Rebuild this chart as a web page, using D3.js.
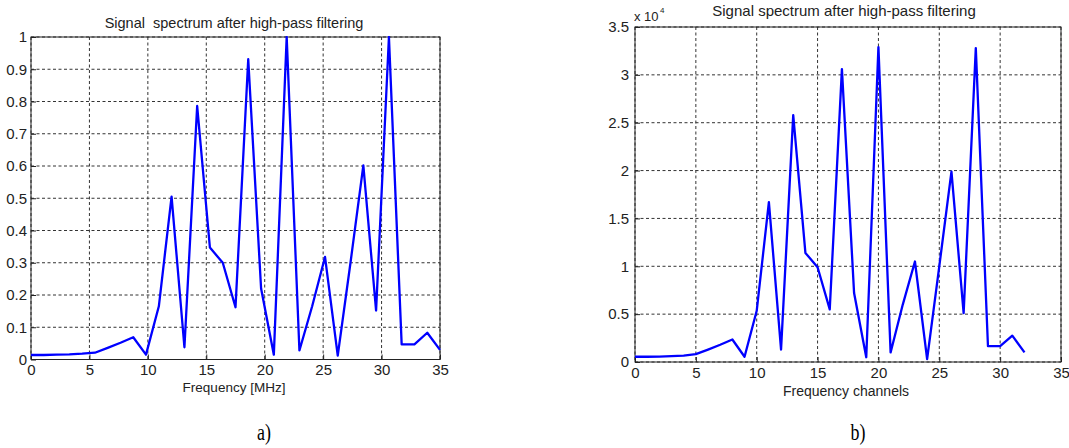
<!DOCTYPE html>
<html>
<head>
<meta charset="utf-8">
<script src="https://cdn.jsdelivr.net/npm/d3@7"></script>
<style>
  body { margin: 0; background: #fff; }
  svg { display: block; font-family: "Liberation Sans", Arial, sans-serif; }
  svg text { white-space: pre; }
</style>
</head>
<body>
<svg id="chart" width="1069" height="448"></svg>
<script>
// values
// a) normalised spectrum against frequency in MHz
const freqMHz = [0, 1.09, 2.19, 3.28, 4.38, 5.47, 6.56, 7.66, 8.75, 9.84, 10.94, 12.03, 13.13,
  14.22, 15.31, 16.41, 17.5, 18.59, 19.69, 20.78, 21.88, 22.97, 24.06, 25.16, 26.25, 27.34,
  28.44, 29.53, 30.63, 31.72, 32.81, 33.91, 35.0];
const normAmplitude = [0.014, 0.014, 0.015, 0.016, 0.018, 0.021, 0.036, 0.052, 0.069, 0.015,
  0.165, 0.505, 0.038, 0.786, 0.347, 0.3, 0.162, 0.931, 0.22, 0.015, 1.0, 0.028, 0.165, 0.318,
  0.012, 0.3, 0.602, 0.152, 1.0, 0.047, 0.047, 0.083, 0.03];

// b) spectrum against channel number, amplitude in units of 10^4
const channels = [0, 1, 2, 3, 4, 5, 6, 7, 8, 9, 10, 11, 12, 13, 14, 15, 16, 17, 18, 19, 20,
  21, 22, 23, 24, 25, 26, 27, 28, 29, 30, 31, 32];
const channelAmplitude = [0.055, 0.055, 0.056, 0.062, 0.066, 0.082, 0.13, 0.18, 0.235, 0.055,
  0.535, 1.67, 0.13, 2.58, 1.14, 0.99, 0.55, 3.06, 0.72, 0.05, 3.29, 0.1, 0.6, 1.05, 0.03, 1.0,
  1.99, 0.51, 3.28, 0.165, 0.165, 0.275, 0.1];

const xTicks = [0, 5, 10, 15, 20, 25, 30, 35];
const yTicksA = [0, 0.1, 0.2, 0.3, 0.4, 0.5, 0.6, 0.7, 0.8, 0.9, 1];
const yTicksB = [0, 0.5, 1, 1.5, 2, 2.5, 3, 3.5];

const svg = d3.select("#chart");
svg.append("rect").attr("width", 1069).attr("height", 448).attr("fill", "#fff");

function drawPanel(p) {
  var w = p.right - p.left, h = p.bottom - p.top;
  var x = d3.scaleLinear().domain([0, 35]).range([0, w]);
  var y = d3.scaleLinear().domain(p.yDomain).range([h, 0]);
  var g = svg.append("g").attr("transform", "translate(" + p.left + "," + p.top + ")");

  // dotted grid
  g.append("g").selectAll("line.vg").data(xTicks).enter().append("line")
    .attr("x1", d => x(d)).attr("x2", d => x(d)).attr("y1", 0).attr("y2", h)
    .attr("stroke", "#333").attr("stroke-width", 1).attr("stroke-dasharray", "3,2.5");
  g.append("g").selectAll("line.hg").data(p.yTicks).enter().append("line")
    .attr("x1", 0).attr("x2", w).attr("y1", d => y(d)).attr("y2", d => y(d))
    .attr("stroke", "#333").attr("stroke-width", 1).attr("stroke-dasharray", "3,2.5");

  // axes, ticks pointing inwards like matlab
  var xa = g.append("g").attr("transform", "translate(0," + h + ")")
    .call(d3.axisBottom(x).tickValues(xTicks).tickSizeInner(-5).tickSizeOuter(0).tickPadding(5).tickFormat(d3.format("d")));
  var ya = g.append("g")
    .call(d3.axisLeft(y).tickValues(p.yTicks).tickSizeInner(-5).tickSizeOuter(0).tickPadding(p.yPad).tickFormat(d => String(+d.toFixed(1))));
  [xa, ya].forEach(a => {
    a.select(".domain").remove();
    a.selectAll("line").attr("stroke", "#222");
    a.selectAll("text").attr("fill", "#222").style("font-size", "15px").style("font-family", "Liberation Sans, Arial, sans-serif");
  });

  g.append("rect").attr("width", w).attr("height", h)
    .attr("fill", "none").attr("stroke", "#222").attr("stroke-width", 1);

  var clipId = "clip" + p.id;
  g.append("clipPath").attr("id", clipId).append("rect").attr("x", -1).attr("y", -1).attr("width", w + 2).attr("height", h + 2);

  var line = d3.line().x(d => x(d[0])).y(d => y(d[1]));
  g.append("path").datum(d3.zip(p.xs, p.ys))
    .attr("clip-path", "url(#" + clipId + ")")
    .attr("d", line).attr("fill", "none").attr("stroke", "#0000ff")
    .attr("stroke-width", 2.3).attr("stroke-linejoin", "round");

  svg.append("text").attr("x", p.titleX).attr("y", p.titleY).attr("text-anchor", "middle")
    .attr("fill", "#222").style("font-size", p.titleSize).text(p.title);
  svg.append("text").attr("x", p.labelX).attr("y", p.labelY).attr("text-anchor", "middle")
    .attr("fill", "#222").style("font-size", p.labelSize).text(p.xLabel);

  // sub-figure tag, condensed serif
  svg.append("text").attr("transform", "translate(" + p.tagX + ",440) scale(0.78,1)")
    .attr("text-anchor", "middle").attr("fill", "#000")
    .style("font-family", "Liberation Serif, Times New Roman, serif").style("font-size", "23px")
    .text(p.tag);
}

drawPanel({
  id: "a", left: 31, top: 37, right: 440, bottom: 359.5,
  xs: freqMHz, ys: normAmplitude, yDomain: [0, 1], yTicks: yTicksA, yPad: 4,
  title: "Signal  spectrum after high-pass filtering", titleX: 234, titleY: 28, titleSize: "14.5px",
  xLabel: "Frequency [MHz]", labelX: 234, labelY: 392, labelSize: "13.5px",
  tag: "a)", tagX: 264
});

drawPanel({
  id: "b", left: 635, top: 27, right: 1061, bottom: 362,
  xs: channels, ys: channelAmplitude, yDomain: [0, 3.5], yTicks: yTicksB, yPad: 6,
  title: "Signal spectrum after high-pass filtering", titleX: 844, titleY: 16, titleSize: "15px",
  xLabel: "Frequency channels", labelX: 846, labelY: 396, labelSize: "14px",
  tag: "b)", tagX: 858
});

// exponent note on panel b
svg.append("text").attr("x", 634).attr("y", 20.5).attr("fill", "#222")
  .style("font-size", "13px").text("x 10");
svg.append("text").attr("x", 660).attr("y", 13).attr("fill", "#222")
  .style("font-size", "8px").text("4");
</script>
</body>
</html>
